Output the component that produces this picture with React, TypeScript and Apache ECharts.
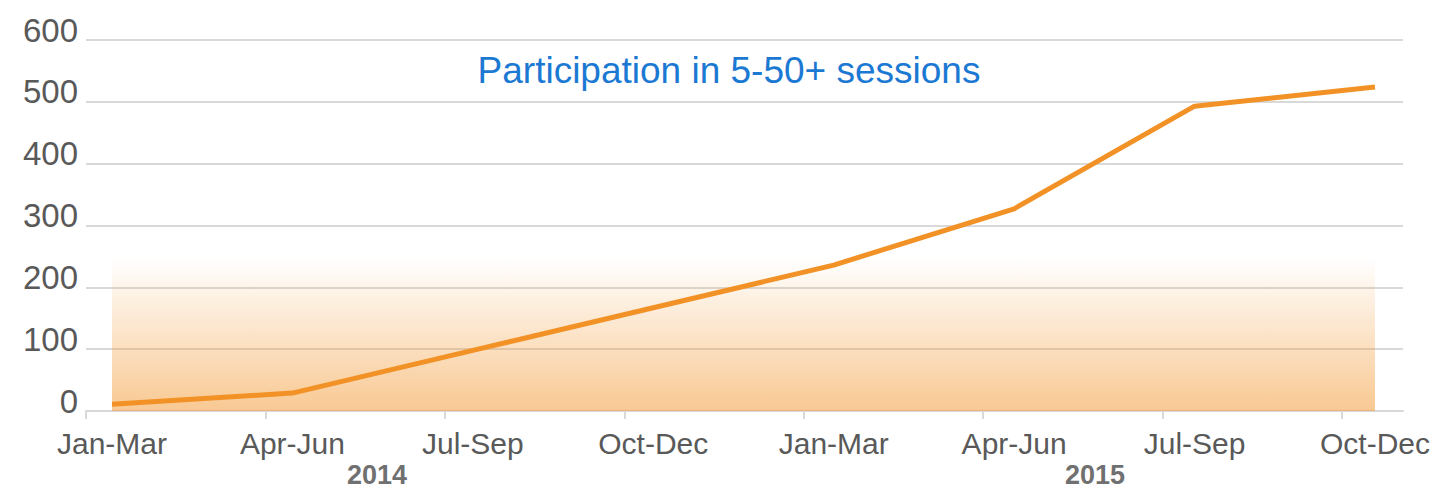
import React, { useEffect, useRef } from 'react';
import * as echarts from 'echarts';

const quarters = ['Jan-Mar', 'Apr-Jun', 'Jul-Sep', 'Oct-Dec', 'Jan-Mar', 'Apr-Jun', 'Jul-Sep', 'Oct-Dec'];
const participants = [11, 29, 98, 167, 236, 327, 493, 524];
const years = ['2014', '2015'];
const yMin = 0;
const yMax = 600;
const yStep = 100;
const shadedBand = [0, 248];
const titleText = 'Participation in 5-50+ sessions';

const FONT = '"Liberation Sans", Arial, Helvetica, sans-serif';
const GRID_COLOR = '#d9d9d9';
const LABEL_COLOR = '#595959';

export default function App() {
  const ref = useRef<HTMLDivElement>(null);

  useEffect(() => {
    if (!ref.current) return;
    const chart = echarts.init(ref.current, undefined, { renderer: 'svg' });
    const option: any = {
      animation: false,
      backgroundColor: '#ffffff',
      textStyle: { fontFamily: FONT },
      title: {
        text: titleText,
        left: 724,
        top: 47,
        textAlign: 'center',
        textStyle: { color: '#1B79D3', fontSize: 37, fontWeight: 'normal', fontFamily: FONT },
      },
      grid: [
        { left: 86, right: 30, top: 40, bottom: 79 },
        { left: 112, right: 58, top: 40, bottom: 79 },
      ],
      xAxis: [
        {
          gridIndex: 0,
          type: 'value',
          min: 0,
          max: 7.34,
          axisLine: { show: true, onZero: false, lineStyle: { color: GRID_COLOR, width: 2 } },
          axisTick: {
            show: true,
            customValues: quarters.map((_, i) => i),
            length: 8,
            lineStyle: { color: GRID_COLOR, width: 2 },
          },
          axisLabel: { show: false },
          splitLine: { show: false },
        },
        {
          gridIndex: 1,
          type: 'category',
          boundaryGap: false,
          data: quarters,
          axisLine: { show: false },
          axisTick: { show: false },
          axisLabel: {
            margin: 17,
            fontSize: 30,
            color: LABEL_COLOR,
            fontFamily: FONT,
            interval: 0,
          },
          splitLine: { show: false },
        },
      ],
      yAxis: [
        {
          gridIndex: 0,
          type: 'value',
          min: yMin,
          max: yMax,
          interval: yStep,
          axisLine: { show: false },
          axisTick: { show: false },
          axisLabel: {
            fontSize: 33,
            color: LABEL_COLOR,
            fontFamily: FONT,
            margin: 8,
            verticalAlign: 'bottom',
            lineHeight: 20,
          },
          splitLine: { show: true, lineStyle: { color: GRID_COLOR, width: 2 } },
        },
        { gridIndex: 1, type: 'value', min: yMin, max: yMax, show: false },
      ],
      graphic: [
        {
          type: 'text',
          x: 377,
          y: 475,
          style: {
            text: years[0],
            align: 'center',
            verticalAlign: 'middle',
            fill: '#707070',
            font: `bold 27px ${FONT}`,
          },
        },
        {
          type: 'text',
          x: 1095,
          y: 475,
          style: {
            text: years[1],
            align: 'center',
            verticalAlign: 'middle',
            fill: '#707070',
            font: `bold 27px ${FONT}`,
          },
        },
      ],
      series: [
        {
          type: 'line',
          xAxisIndex: 1,
          yAxisIndex: 1,
          data: participants,
          symbol: 'none',
          lineStyle: { color: '#F29226', width: 5 },
          z: 3,
          markArea: {
            silent: true,
            itemStyle: {
              color: new echarts.graphic.LinearGradient(0, 0, 0, 1, [
                { offset: 0, color: 'rgba(242,146,38,0.0)' },
                { offset: 1, color: 'rgba(242,146,38,0.5)' },
              ]),
            },
            data: [
              [
                { xAxis: 0, yAxis: shadedBand[1] },
                { xAxis: quarters.length - 1, yAxis: shadedBand[0] },
              ],
            ],
          },
        },
      ],
    };
    chart.setOption(option);
    return () => chart.dispose();
  }, []);

  return (
    <div
      ref={ref}
      style={{ position: 'fixed', left: 0, top: 0, width: 1433, height: 490 }}
    />
  );
}
